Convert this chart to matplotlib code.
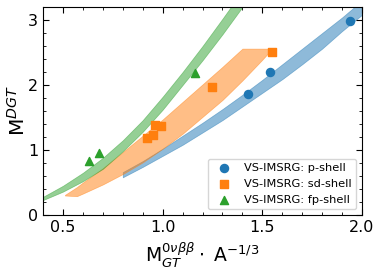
import matplotlib
matplotlib.use('Agg')
import matplotlib.pyplot as plt
from matplotlib.ticker import MultipleLocator

# Puntos VS-IMSRG
p_x = [1.43, 1.54, 1.94]
p_y = [1.86, 2.20, 2.98]
sd_x = [0.92, 0.95, 0.96, 0.99, 1.25, 1.55]
sd_y = [1.19, 1.23, 1.38, 1.37, 1.97, 2.51]
fp_x = [0.63, 0.68, 1.16]
fp_y = [0.83, 0.95, 2.19]

# Bandas (bordes inferior / superior)
fp_band_x = [0.40, 0.50, 0.60, 0.70, 0.80, 0.90, 1.00, 1.10, 1.20, 1.30, 1.40]
fp_band_lo = [0.23, 0.36, 0.52, 0.71, 0.98, 1.28, 1.62, 2.00, 2.38, 2.78, 3.20]
fp_band_hi = [0.28, 0.45, 0.65, 0.88, 1.15, 1.46, 1.82, 2.20, 2.60, 3.02, 3.45]

sd_band_x = [0.51, 0.57, 0.60, 0.70, 0.80, 0.90, 1.00, 1.10, 1.20, 1.30, 1.40, 1.50, 1.55]
sd_band_lo = [0.30, 0.29, 0.33, 0.47, 0.63, 0.81, 1.02, 1.25, 1.51, 1.77, 2.07, 2.39, 2.56]
sd_band_hi = [0.31, 0.43, 0.50, 0.72, 0.97, 1.22, 1.47, 1.74, 2.01, 2.28, 2.56, 2.56, 2.56]

p_band_x = [0.80, 0.90, 1.00, 1.10, 1.20, 1.30, 1.40, 1.50, 1.60, 1.70, 1.80, 1.90, 2.00]
p_band_lo = [0.58, 0.74, 0.91, 1.08, 1.27, 1.46, 1.67, 1.88, 2.09, 2.32, 2.56, 2.83, 3.08]
p_band_hi = [0.66, 0.83, 1.02, 1.22, 1.42, 1.63, 1.85, 2.08, 2.32, 2.56, 2.80, 3.04, 3.30]

fig = plt.figure(figsize=(3.82, 2.71), dpi=100)
ax = fig.add_axes([0.1126, 0.2066, 0.8351, 0.7675])

ax.fill_between(p_band_x, p_band_lo, p_band_hi, color='C0', alpha=0.5, lw=0.5)
ax.fill_between(sd_band_x, sd_band_lo, sd_band_hi, color='C1', alpha=0.5, lw=0.5)
ax.fill_between(fp_band_x, fp_band_lo, fp_band_hi, color='C2', alpha=0.5, lw=0.5)

ax.scatter(p_x, p_y, s=34, marker='o', color='C0', label='VS-IMSRG: p-shell', zorder=3)
ax.scatter(sd_x, sd_y, s=34, marker='s', color='C1', label='VS-IMSRG: sd-shell', zorder=3)
ax.scatter(fp_x, fp_y, s=34, marker='^', color='C2', label='VS-IMSRG: fp-shell', zorder=3)

ax.set_xlim(0.4, 2.0)
ax.set_ylim(0, 3.2)
ax.xaxis.set_major_locator(MultipleLocator(0.5))
ax.xaxis.set_minor_locator(MultipleLocator(0.1))
ax.yaxis.set_major_locator(MultipleLocator(1))
ax.yaxis.set_minor_locator(MultipleLocator(0.2))
ax.tick_params(which='both', direction='in', top=True, right=True, labelsize=11.5)
ax.tick_params(which='major', length=4)
ax.tick_params(which='minor', length=2)

ax.set_xlabel(r'M$^{0\nu\beta\beta}_{GT}\cdot$ A$^{-1/3}$', fontsize=13.5)
ax.set_ylabel(r'M$^{DGT}$', fontsize=14.5)
ax.yaxis.set_label_coords(-0.045, 0.5)

ax.legend(loc='lower right', fontsize=8.2)

fig.savefig('out.png', dpi=100)
